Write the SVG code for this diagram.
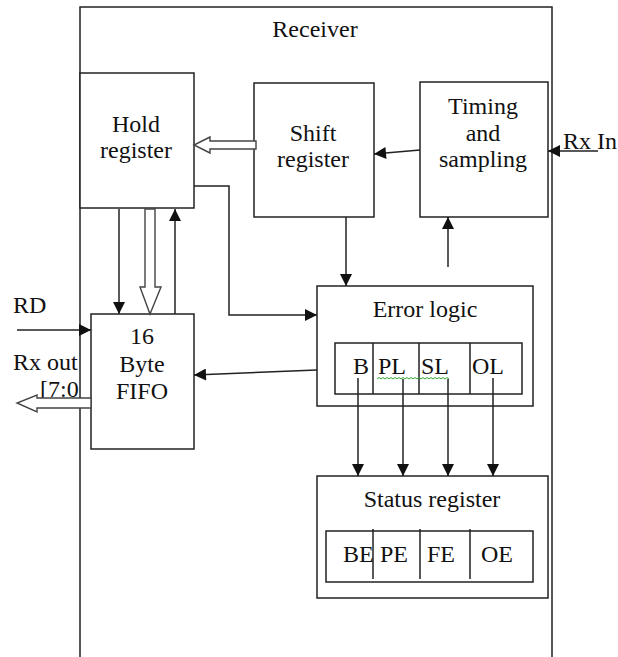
<svg xmlns="http://www.w3.org/2000/svg" width="618" height="657" viewBox="0 0 618 657">
<style>
  .box { fill: #fff; stroke: #222; stroke-width: 1.5; }
  .ln { fill: none; stroke: #222; stroke-width: 1.5; }
  .hol { fill: #fff; stroke: #444; stroke-width: 1.4; }
  text { font-family: "Liberation Serif", "Times New Roman", serif; font-size: 24px; fill: #111; }
  .c { text-anchor: middle; }
</style>
<defs>
  <marker id="arr" viewBox="0 0 10 10" refX="10" refY="5" markerWidth="13" markerHeight="12" markerUnits="userSpaceOnUse" orient="auto">
    <path d="M0,0 L10,5 L0,10 z" fill="#111"/>
  </marker>
</defs>
<rect width="618" height="657" fill="#fff"/>

<g id="receiver">
  <path class="ln" d="M80,657 V7 H552 V657"/>
  <text class="c" x="315" y="37">Receiver</text>
</g>

<g id="hold-register">
  <rect class="box" x="80" y="73" width="114" height="135"/>
  <text class="c" x="136" y="132">Hold</text>
  <text class="c" x="136" y="158">register</text>
</g>

<g id="shift-register">
  <rect class="box" x="254" y="83" width="120" height="134"/>
  <text class="c" x="313" y="141">Shift</text>
  <text class="c" x="313" y="167">register</text>
</g>

<g id="timing-sampling">
  <rect class="box" x="420" y="82" width="128" height="135"/>
  <text class="c" x="483" y="114">Timing</text>
  <text class="c" x="483" y="141">and</text>
  <text class="c" x="483" y="167">sampling</text>
</g>

<g id="fifo">
  <rect class="box" x="91" y="314" width="103" height="135"/>
  <text class="c" x="142" y="344">16</text>
  <text class="c" x="142" y="372">Byte</text>
  <text class="c" x="142" y="399">FIFO</text>
</g>

<g id="error-logic">
  <rect class="box" x="317" y="286" width="216" height="120"/>
  <text class="c" x="425" y="317">Error logic</text>
  <rect class="box" x="335" y="343" width="187" height="51"/>
  <path class="ln" d="M373,343 V394 M419,343 V394 M470,343 V394"/>
  <text x="353" y="374">B</text>
  <text x="378" y="374">PL</text>
  <text x="421" y="374">SL</text>
  <text x="472" y="374">OL</text>
  <path fill="none" stroke="#3a3" stroke-width="1" d="M377,379 l2,-1.5 l2,1.5 l2,-1.5 l2,1.5 l2,-1.5 l2,1.5 l2,-1.5 l2,1.5 l2,-1.5 l2,1.5 l2,-1.5 l2,1.5 l2,-1.5 l2,1.5 l2,-1.5 l2,1.5 l2,-1.5 l2,1.5 l2,-1.5 l2,1.5 l2,-1.5 l2,1.5 l2,-1.5 l2,1.5 l2,-1.5 l2,1.5 l2,-1.5 l2,1.5 l2,-1.5 l2,1.5 l2,-1.5 l2,1.5 l2,-1.5 l2,1.5 l2,-1.5 l2,1.5"/>
</g>

<g id="status-register">
  <rect class="box" x="317" y="476" width="231" height="122"/>
  <text class="c" x="432" y="507">Status register</text>
  <rect class="box" x="326" y="531" width="207" height="51"/>
  <path class="ln" d="M373,529 V579 M420,529 V579 M470,529 V579"/>
  <text x="343" y="562">BE</text>
  <text x="380" y="562">PE</text>
  <text x="427" y="562">FE</text>
  <text x="481" y="562">OE</text>
</g>

<g id="labels">
  <text x="563" y="149">Rx In</text>
  <text x="13" y="313">RD</text>
  <text x="13" y="370">Rx out</text>
  <text x="40" y="397">[7:0</text>
</g>

<g id="connectors">
  <line class="ln" x1="598" y1="151" x2="548" y2="151" marker-end="url(#arr)"/>
  <line class="ln" x1="420" y1="150" x2="374" y2="154" marker-end="url(#arr)"/>
  <polygon class="hol" points="256,141 210,141 210,137 194,145 210,153 210,149 256,149"/>
  <line class="ln" x1="119" y1="209" x2="119" y2="314" marker-end="url(#arr)"/>
  <polygon class="hol" points="145,209 145,287 140,287 150,314 161,287 155,287 155,209"/>
  <line class="ln" x1="175" y1="314" x2="175" y2="209" marker-end="url(#arr)"/>
  <polyline class="ln" points="194,186 229,186 229,315 317,315" marker-end="url(#arr)"/>
  <line class="ln" x1="346" y1="217" x2="346" y2="286" marker-end="url(#arr)"/>
  <line class="ln" x1="448" y1="267" x2="448" y2="217" marker-end="url(#arr)"/>
  <line class="ln" x1="17" y1="330" x2="91" y2="330" marker-end="url(#arr)"/>
  <line class="ln" x1="317" y1="370" x2="194" y2="375" marker-end="url(#arr)"/>
  <polygon class="hol" points="91,398 37,398 37,395 17,403 37,412 37,408 91,408"/>
  <line class="ln" x1="358" y1="378" x2="358" y2="476" marker-end="url(#arr)"/>
  <line class="ln" x1="403" y1="379" x2="403" y2="476" marker-end="url(#arr)"/>
  <line class="ln" x1="448" y1="379" x2="448" y2="476" marker-end="url(#arr)"/>
  <line class="ln" x1="493" y1="378" x2="493" y2="476" marker-end="url(#arr)"/>
</g>
</svg>
